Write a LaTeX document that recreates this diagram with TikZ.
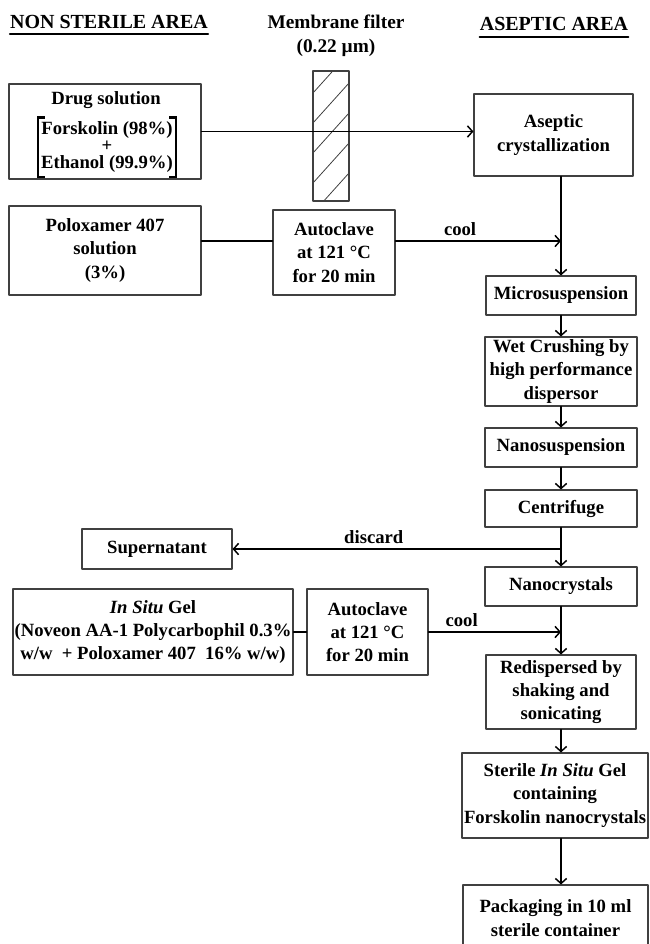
\documentclass[tikz,border=0pt]{standalone}
\usepackage{fontspec}
\setmainfont{Liberation Serif}
\usetikzlibrary{arrows.meta}
\begin{document}
\begin{tikzpicture}[x=0.75pt,y=-0.75pt,line join=round,line cap=round,
	font=\fontsize{14}{17.5}\selectfont\bfseries,
	box/.style={draw=black!75,line width=0.8pt,align=center,inner xsep=1pt,inner ysep=0pt},
	flow/.style={line width=1.1pt},
	head/.style={font=\fontsize{15}{18}\selectfont\bfseries,inner sep=0pt},
	>={Straight Barb[length=3.8pt,width=8.5pt]}]
	\path[use as bounding box,clip] (0,0) rectangle (649,944);
	% headings
	\node[head,anchor=base] (nonsterile) at (109,29) {NON STERILE AREA};
	\node[head,anchor=base] (aseptarea) at (554,31) {ASEPTIC AREA};
	\draw[line width=1.5pt] ([yshift=-4pt]nonsterile.base west)--([yshift=-4pt]nonsterile.base east);
	\draw[line width=1.5pt] ([yshift=-4.5pt]aseptarea.base west)--([yshift=-4.5pt]aseptarea.base east);
	\node[align=center,inner sep=0pt,font=\fontsize{14.5}{18}\selectfont\bfseries] (membrane) at (336,35.5) {Membrane filter\\(0.22 µm)};
	% filter
	\node[draw=black!75,line width=0.8pt,minimum width=27pt,minimum height=97.5pt,inner sep=0pt] (filter) at (331,136) {};
	\begin{scope}
		\clip (filter.south west) rectangle (filter.north east);
		\foreach \k in {0,...,4} \draw[black!75,line width=0.6pt] (313,93+30*\k)--++(36,-40);
	\end{scope}
	% non sterile side
	\node[box,minimum width=144pt,minimum height=71.25pt] (drug) at (105,131.5) {};
	\node[anchor=base] (drugname) at (106,105) {Drug solution};
	\node[align=center,inner xsep=1pt,inner ysep=0pt,font=\fontsize{14}{11.6}\selectfont\bfseries] (mix) at (107,147) {Forskolin (98\%)\\[1pt]+\\[1pt]Ethanol (99.9\%)};
	\draw[line width=1.6pt,line join=miter,line cap=butt] ([shift={(4pt,3pt)}]mix.north west)--([shift={(-1pt,3pt)}]mix.north west)--([shift={(-1pt,-3.5pt)}]mix.south west)--([shift={(4pt,-3.5pt)}]mix.south west);
	\draw[line width=1.6pt,line join=miter,line cap=butt] ([shift={(-4pt,3pt)}]mix.north east)--([shift={(1pt,3pt)}]mix.north east)--([shift={(1pt,-3.5pt)}]mix.south east)--([shift={(-4pt,-3.5pt)}]mix.south east);
	\node[box,minimum width=144pt,minimum height=66.75pt] (polox) at (105,250.5) {Poloxamer 407\\solution\\(3\%)};
	\node[box,minimum width=91.5pt,minimum height=63.75pt] (autoA) at (334,252.5) {Autoclave\\at 121 °C\\for 20 min};
	\node[box,minimum width=112.5pt,minimum height=30pt] (super) at (157,549) {Supernatant};
	\node[box,minimum width=210pt,minimum height=64.5pt] (insitu) at (153,632) {\textit{In Situ} Gel\\(Noveon AA-1 Polycarbophil 0.3\%\\w/w \ + Poloxamer 407 \ 16\% w/w)};
	\node[box,minimum width=90.75pt,minimum height=64.5pt] (autoB) at (367.5,632) {Autoclave\\at 121 °C\\for 20 min};
	% aseptic side
	\node[box,minimum width=119.25pt,minimum height=61.5pt] (aseptic) at (553.5,135) {Aseptic\\crystallization};
	\node[box,minimum width=112.5pt,minimum height=29.25pt] (micro) at (561,295.5) {Microsuspension};
	\node[box,minimum width=114pt,minimum height=51.75pt] (wet) at (561,371.5) {Wet Crushing by\\high performance\\dispersor};
	\node[box,minimum width=114pt,minimum height=29.25pt] (nanosusp) at (561,447.5) {Nanosuspension};
	\node[box,minimum width=114pt,minimum height=27.75pt] (centri) at (561,508.5) {Centrifuge};
	\node[box,minimum width=114pt,minimum height=29.25pt] (nanocr) at (561,586.5) {Nanocrystals};
	\node[box,minimum width=112.5pt,minimum height=55.5pt] (redisp) at (561,692) {Redispersed by\\shaking and\\sonicating};
	\node[box,minimum width=139.5pt,minimum height=63.75pt] (sterile) at (555,795.5) {Sterile \textit{In Situ} Gel\\containing\\Forskolin nanocrystals};
	\node[box,minimum width=138.75pt,minimum height=49.5pt] (pack) at (555.5,918) {Packaging in 10 ml\\sterile container};
	% connectors
	\coordinate (row2) at (0,241);
	\draw[flow,->] (drug.east)--(drug.east-|aseptic.west);
	\draw[flow] (polox.east|-row2)--(autoA.west|-row2);
	\draw[flow,->] (autoA.east|-row2)--node[pos=.39,above] (cool1) {cool} (micro|-row2);
	\draw[flow,->] (aseptic.south-|micro)--(micro.north);
	\draw[flow,->] (micro.south)--(wet.north);
	\draw[flow,->] (wet.south)--(nanosusp.north);
	\draw[flow,->] (nanosusp.south)--(centri.north);
	\draw[flow,->] (centri.south)--(nanocr.north);
	\draw[flow,->] (super.east-|micro)--node[pos=.57,above] (discard) {discard} (super.east);
	\draw[flow] (insitu.east)--(autoB.west);
	\draw[flow,->] (autoB.east)--node[pos=.25,above] (cool2) {cool} (autoB.east-|micro);
	\draw[flow,->] (nanocr.south)--(redisp.north);
	\draw[flow,->] (redisp.south)--(redisp.south|-sterile.north);
	\draw[flow,->] (sterile.south-|micro)--(pack.north-|micro);
\end{tikzpicture}
\end{document}
